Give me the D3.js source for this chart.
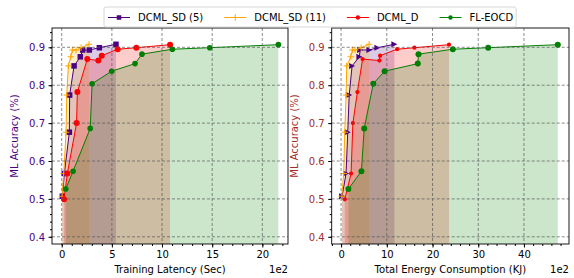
<!DOCTYPE html>
<html>
<head>
<meta charset="utf-8">
<script src="https://cdn.jsdelivr.net/npm/d3@7.9.0/dist/d3.min.js"></script>
<style>
  body { margin: 0; background: #fff; }
  svg { font-family: "DejaVu Sans", sans-serif; }
</style>
</head>
<body>
<svg id="chart" width="574" height="278"></svg>
<script>
// accuracy per training round (same rounds for every method)
const accSD = [0.507, 0.567, 0.676, 0.774, 0.851, 0.875, 0.893, 0.893, 0.899, 0.908];
const accD = [0.499, 0.567, 0.700, 0.782, 0.869, 0.865, 0.878, 0.895, 0.899, 0.907];
const accFL = [0.526, 0.573, 0.686, 0.804, 0.837, 0.857, 0.882, 0.895, 0.899, 0.907];

// training latency (sec)
const latSD5 = [6, 26, 76, 79, 123, 185, 209, 275, 375, 541];
const latSD11 = [3, 20, 43, 50, 66, 90, 106, 143, 192, 272];
const latD = [23, 56, 148, 156, 255, 365, 399, 558, 744, 1080];
const latFL = [40, 113, 284, 303, 498, 731, 800, 1103, 1476, 2160];

// total energy consumption (KJ)
const enSD5 = [22, 109, 146, 178, 241, 400, 416, 619, 794, 1166];
const enSD11 = [15, 58, 81, 109, 124, 212, 247, 306, 438, 613];
const enD = [81, 219, 258, 357, 470, 838, 853, 1225, 1604, 2360];
const enFL = [160, 445, 506, 704, 952, 1678, 1693, 2444, 3217, 4740];

const seriesNames = ["DCML_SD (5)", "DCML_SD (11)", "DCML_D", "FL-EOCD"];
const seriesColors = ["#4b0082", "#ffa500", "#ff0000", "#008000"];

const yTicks = [0.4, 0.5, 0.6, 0.7, 0.8, 0.9];
const latTicks = [0, 500, 1000, 1500, 2000];
const enTicks = [0, 1000, 2000, 3000, 4000];

const svg = d3.select("#chart");
const plotTop = 28, plotBottom = 244;
const yScaleBase = d3.scaleLinear().domain([0.381, 0.951]).range([plotBottom, plotTop]);

const panels = [
  {
    id: "lat", left: 52, right: 288, domain: [-97, 2256],
    ticks: latTicks, minorStep: 100, label: "Training Latency (Sec)",
    yColor: "#4b0082",
    xs: [latSD5, latSD11, latD, latFL],
    markers: ["square", "plus", "circle", "circle"],
    msize: [5.5, 6.5, 3, 2.8]
  },
  {
    id: "en", left: 331.7, right: 569, domain: [-205, 4985],
    ticks: enTicks, minorStep: 200, label: "Total Energy Consumption (KJ)",
    yColor: "#a52a2a",
    xs: [enSD5, enSD11, enD, enFL],
    markers: ["tri", "plus", "circle", "circle"],
    msize: [6, 6.5, 2.1, 3]
  }
];
const accs = [accSD, accSD, accD, accFL];

function drawMarker(g, type, x, y, s, color) {
  if (type === "square") {
    g.append("rect").attr("x", x - s / 2).attr("y", y - s / 2)
      .attr("width", s).attr("height", s).attr("fill", color);
  } else if (type === "circle") {
    g.append("circle").attr("cx", x).attr("cy", y).attr("r", s).attr("fill", color);
  } else if (type === "plus") {
    g.append("path")
      .attr("d", `M${x - s / 2},${y}H${x + s / 2}M${x},${y - s / 2}V${y + s / 2}`)
      .attr("stroke", color).attr("stroke-width", 1);
  } else if (type === "tri") {
    const h = s / 2;
    g.append("path")
      .attr("d", `M${x + h},${y}L${x - h},${y - h}L${x - h},${y + h}Z`)
      .attr("fill", color);
  }
}

panels.forEach((p) => {
  const x = d3.scaleLinear().domain(p.domain).range([p.left, p.right]);
  const y = yScaleBase;
  const g = svg.append("g");

  g.append("clipPath").attr("id", "clip-" + p.id)
    .append("rect").attr("x", p.left).attr("y", plotTop)
    .attr("width", p.right - p.left).attr("height", plotBottom - plotTop);

  const plot = g.append("g").attr("clip-path", `url(#clip-${p.id})`);

  // filled areas under each curve
  const area = d3.area().x((d) => x(d[0])).y0(plotBottom).y1((d) => y(d[1]));
  p.xs.forEach((xv, i) => {
    const pts = xv.map((v, j) => [v, accs[i][j]]);
    plot.append("path").datum(pts).attr("d", area)
      .attr("fill", seriesColors[i]).attr("fill-opacity", 0.2);
  });

  // grid
  const grid = g.append("g").attr("stroke", "#555").attr("stroke-width", 0.8)
    .attr("stroke-dasharray", "3,2").attr("opacity", 0.85);
  p.ticks.forEach((t) => {
    grid.append("line").attr("x1", x(t)).attr("x2", x(t))
      .attr("y1", plotTop).attr("y2", plotBottom);
  });
  yTicks.forEach((t) => {
    grid.append("line").attr("x1", p.left).attr("x2", p.right)
      .attr("y1", y(t)).attr("y2", y(t));
  });

  // lines + markers
  const line = d3.line().x((d) => x(d[0])).y((d) => y(d[1]));
  p.xs.forEach((xv, i) => {
    const pts = xv.map((v, j) => [v, accs[i][j]]);
    plot.append("path").datum(pts).attr("d", line)
      .attr("fill", "none").attr("stroke", seriesColors[i]).attr("stroke-width", 1);
    const mg = plot.append("g");
    pts.forEach((d) => drawMarker(mg, p.markers[i], x(d[0]), y(d[1]), p.msize[i], seriesColors[i]));
  });

  // axes
  const minorX = d3.range(Math.ceil(p.domain[0] / p.minorStep) * p.minorStep, p.domain[1], p.minorStep);
  g.append("g").attr("transform", `translate(0,${plotBottom})`)
    .call(d3.axisBottom(x).tickValues(minorX).tickSize(2).tickFormat(""))
    .call((a) => a.select(".domain").remove());
  const xa = g.append("g").attr("transform", `translate(0,${plotBottom})`)
    .call(d3.axisBottom(x).tickValues(p.ticks).tickSize(3.5).tickPadding(3.5)
      .tickFormat((d) => d / 100));
  xa.select(".domain").remove();
  xa.selectAll("text").attr("font-size", 10).attr("fill", "#000")
    .attr("font-family", "DejaVu Sans");

  const minorY = d3.range(0.40, 0.95, 0.02);
  g.append("g").attr("transform", `translate(${p.left},0)`)
    .call(d3.axisLeft(y).tickValues(minorY).tickSize(2).tickFormat(""))
    .call((a) => a.select(".domain").remove());
  const ya = g.append("g").attr("transform", `translate(${p.left},0)`)
    .call(d3.axisLeft(y).tickValues(yTicks).tickSize(3.5).tickPadding(3.5)
      .tickFormat(d3.format(".1f")));
  ya.select(".domain").remove();
  ya.selectAll("text").attr("font-size", 10).attr("fill", p.yColor)
    .attr("font-family", "DejaVu Sans");

  // frame
  g.append("rect").attr("x", p.left).attr("y", plotTop)
    .attr("width", p.right - p.left).attr("height", plotBottom - plotTop)
    .attr("fill", "none").attr("stroke", "#000").attr("stroke-width", 0.9);

  // labels
  g.append("text").attr("x", (p.left + p.right) / 2).attr("y", 273)
    .attr("text-anchor", "middle").attr("font-size", 10).text(p.label);
  g.append("text").attr("x", p.right).attr("y", 273)
    .attr("text-anchor", "end").attr("font-size", 10).text("1e2");
  g.append("text")
    .attr("transform", `translate(${p.left - 34},${(plotTop + plotBottom) / 2}) rotate(-90)`)
    .attr("text-anchor", "middle").attr("font-size", 10)
    .attr("fill", p.yColor).text("ML Accuracy (%)");
});

// legend
const legend = svg.append("g");
const box = legend.append("rect").attr("y", 7).attr("height", 20)
  .attr("rx", 2).attr("fill", "#fff").attr("fill-opacity", 0.8)
  .attr("stroke", "#ccc").attr("stroke-width", 0.8);
const legMarkers = ["square", "plus", "circle", "circle"];
const legSizes = [4.5, 6.5, 2.2, 2.2];
let cx = 108;
seriesNames.forEach((name, i) => {
  legend.append("line").attr("x1", cx).attr("x2", cx + 22)
    .attr("y1", 17.5).attr("y2", 17.5)
    .attr("stroke", seriesColors[i]).attr("stroke-width", 1);
  drawMarker(legend, legMarkers[i], cx + 11, 17.5, legSizes[i], seriesColors[i]);
  const t = legend.append("text").attr("x", cx + 30).attr("y", 21.2)
    .attr("font-size", 10).text(name);
  const w = t.node().getComputedTextLength();
  cx = cx + 30 + w + (i < seriesNames.length - 1 ? 21 : 0);
});
box.attr("x", 104).attr("width", cx + 3 - 104);
</script>
</body>
</html>
